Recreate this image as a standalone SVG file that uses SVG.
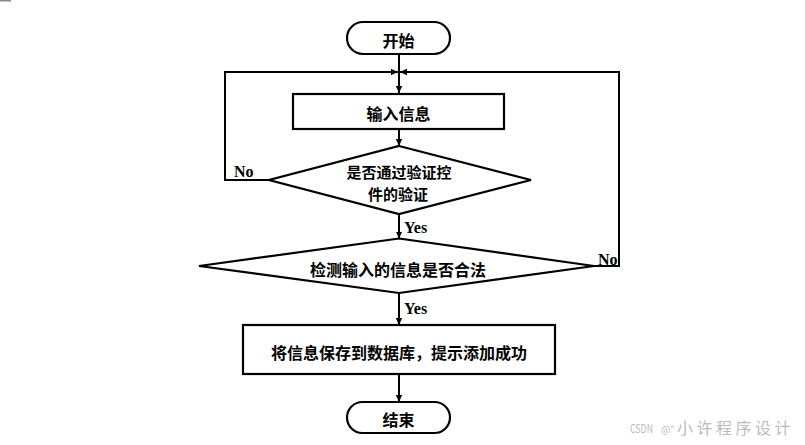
<svg xmlns="http://www.w3.org/2000/svg" width="805" height="445" viewBox="0 0 805 445">
<style>
.shape{fill:#fff;stroke:#000;stroke-width:2.2}
.line{fill:none;stroke:#000;stroke-width:2}
.cn{font-family:"Noto Sans CJK SC","Noto Sans",sans-serif;font-weight:bold;font-size:16px;fill:#000;text-anchor:middle;dominant-baseline:central}
.cn2{font-size:15px}
.lbl{font-family:"Liberation Serif",serif;font-weight:bold;font-size:16px;fill:#000}
.wm{font-family:"Noto Sans CJK SC","Noto Sans",sans-serif;fill:#bbb}
</style>
<defs>
<marker id="arr" markerWidth="8" markerHeight="8" refX="7" refY="4" orient="auto" markerUnits="userSpaceOnUse">
<path d="M0,0.8 L7,4 L0,7.2 Z" fill="#000"/>
</marker>
</defs>
<rect width="805" height="445" fill="#fff"/>
<rect x="0" y="0" width="11" height="1.5" fill="#888"/>
<g id="connectors">
<line class="line" x1="399" y1="54" x2="399" y2="93" marker-end="url(#arr)"/>
<line class="line" x1="399" y1="129" x2="399" y2="146" marker-end="url(#arr)"/>
<line class="line" x1="399" y1="214" x2="399" y2="238.5" marker-end="url(#arr)"/>
<line class="line" x1="399" y1="293" x2="399" y2="325" marker-end="url(#arr)"/>
<line class="line" x1="399" y1="374" x2="399" y2="402" marker-end="url(#arr)"/>
<polyline class="line" points="269,180 225,180 225,72 398,72" marker-end="url(#arr)"/>
<polyline class="line" points="594,266 619,266 619,72 400,72" marker-end="url(#arr)"/>
<text class="lbl" x="234" y="177">No</text>
<text class="lbl" x="404" y="233">Yes</text>
<text class="lbl" x="598" y="265">No</text>
<text class="lbl" x="404" y="314">Yes</text>
</g>
<g id="start">
<rect class="shape" x="347" y="22" width="103" height="32" rx="16" ry="16"/>
<text class="cn" x="398.5" y="40">开始</text>
</g>
<g id="input">
<rect class="shape" x="293" y="94" width="211" height="35"/>
<text class="cn" x="398.5" y="113">输入信息</text>
</g>
<g id="check1">
<polygon class="shape" points="399,146 531,180 399,214 269,180"/>
<text class="cn cn2" x="399" y="171.5">是否通过验证控</text>
<text class="cn cn2" x="398" y="193.5">件的验证</text>
</g>
<g id="check2">
<polygon class="shape" points="399,238.5 594,266 399,293 199,266"/>
<text class="cn" x="398" y="269">检测输入的信息是否合法</text>
</g>
<g id="save">
<rect class="shape" x="243" y="325" width="312" height="49"/>
<text class="cn" x="399" y="351.5">将信息保存到数据库，提示添加成功</text>
</g>
<g id="end">
<rect class="shape" x="347" y="402" width="103" height="31" rx="15.5" ry="15.5"/>
<text class="cn" x="398.5" y="419">结束</text>
</g>
<text class="wm" x="630" y="433" font-size="12" textLength="23" lengthAdjust="spacingAndGlyphs">CSDN</text>
<text class="wm" x="661" y="433" font-size="10">@°</text>
<text class="wm" x="677" y="434" font-size="16" letter-spacing="3.5">小许程序设计</text>
</svg>
